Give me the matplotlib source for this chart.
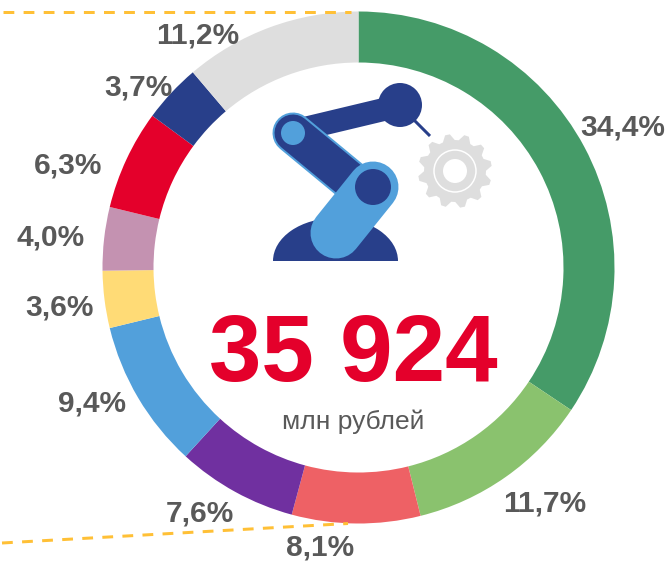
import numpy as np
import matplotlib
matplotlib.use('Agg')
import matplotlib.pyplot as plt
from matplotlib.patches import Circle, Ellipse, Polygon, Rectangle

plt.rcParams['font.family'] = ['Liberation Sans', 'DejaVu Sans']

# Доли сегментов, по часовой стрелке от верхней точки
shares = [34.4, 11.7, 8.1, 7.6, 9.4, 3.6, 4.0, 6.3, 3.7, 11.2]
share_labels = ['34,4%', '11,7%', '8,1%', '7,6%', '9,4%', '3,6%', '4,0%', '6,3%', '3,7%', '11,2%']
colors = ['#459B68', '#8AC26E', '#EE6165', '#7030A0', '#52A0DB',
          '#FFDB76', '#C492B1', '#E4002B', '#283F8A', '#DEDEDE']
total_value = '35 924'
total_unit = 'млн рублей'

# Центры подписей в пикселях картинки
label_x = [623, 545, 320, 200, 92, 59, 51, 68, 138, 198]
label_y = [128, 504, 547.5, 514, 403, 307, 238, 166, 87, 35]

W, H = 669, 563
NAVY = '#283F8A'
BLUE = '#52A0DB'
GREY = '#DEDEDE'
GOLD = '#FFC036'
PX = 72 / 100  # пиксель в пунктах при dpi=100


def yy(y):
    # y в картинке идёт сверху вниз
    return H - y


fig = plt.figure(figsize=(W / 100, H / 100), dpi=100)
ax = fig.add_axes([0, 0, 1, 1])

# Кольцо
ax.pie(shares, colors=colors, startangle=90, counterclock=False,
       center=(358.5, yy(267.5)), radius=256,
       wedgeprops={'width': 51, 'linewidth': 0})

ax.set_xlim(0, W)
ax.set_ylim(0, H)
ax.set_aspect('equal')
ax.axis('off')

# Пунктир
ax.plot([3, 351], [yy(11.7), yy(11.7)], color=GOLD, lw=3 * PX, dashes=(3.6, 3.1), zorder=1)
ax.plot([2, 348], [yy(543), yy(523.5)], color=GOLD, lw=3 * PX, dashes=(3.6, 3.1), zorder=1)

for x, y, txt in zip(label_x, label_y, share_labels):
    ax.text(x, yy(y), txt, ha='center', va='center', fontsize=21.5, fontweight='bold', color='#595959')

ax.text(353, yy(381), total_value, ha='center', va='baseline', fontsize=68, fontweight='bold', color='#E4002B')
ax.text(353, yy(422), total_unit, ha='center', va='center', fontsize=19, color='#595959')

# Робот: основание
base = Ellipse((335.5, yy(261)), 125, 86, color=NAVY, lw=0, zorder=3)
ax.add_patch(base)
base.set_clip_path(Rectangle((270, yy(261)), 135, 50, transform=ax.transData))

# Плечо с головкой и инструментом
ax.plot([412, 430], [yy(118), yy(136)], color=NAVY, lw=3 * PX, zorder=3, solid_capstyle='butt')
ax.plot([298, 390], [yy(130), yy(108)], color=NAVY, lw=23 * PX, zorder=3, solid_capstyle='butt')
ax.add_patch(Circle((400, yy(105)), 22, color=NAVY, lw=0, zorder=3))

# Средний рычаг
ax.plot([293, 368], [yy(133), yy(195)], color=BLUE, lw=41 * PX, zorder=4, solid_capstyle='round')
ax.plot([293, 368], [yy(133), yy(195)], color=NAVY, lw=37 * PX, zorder=4, solid_capstyle='round')
ax.add_patch(Circle((293, yy(133)), 12, color=BLUE, lw=0, zorder=5))

# Нижний рычаг
ax.plot([373, 336], [yy(187), yy(233)], color=BLUE, lw=51 * PX, zorder=6, solid_capstyle='round')
ax.add_patch(Circle((373, yy(187)), 18, color=NAVY, lw=0, zorder=7))

# Шестерня
n_teeth = 12
gear_ang = np.linspace(0, 2 * np.pi, n_teeth * 4, endpoint=False) + np.radians(15 - 7)
gear_r = np.tile([37, 37, 31, 31], n_teeth)
gear_pts = np.column_stack([455 + gear_r * np.cos(gear_ang), yy(171) + gear_r * np.sin(gear_ang)])
ax.add_patch(Polygon(gear_pts, closed=True, color=GREY, lw=0, zorder=3, joinstyle='round'))
ax.add_patch(Circle((455, yy(171)), 21, fill=False, ec='white', lw=1.5 * PX, zorder=4))
ax.add_patch(Circle((455, yy(171)), 12, color='white', lw=0, zorder=4))

fig.savefig('out.png', dpi=100)
